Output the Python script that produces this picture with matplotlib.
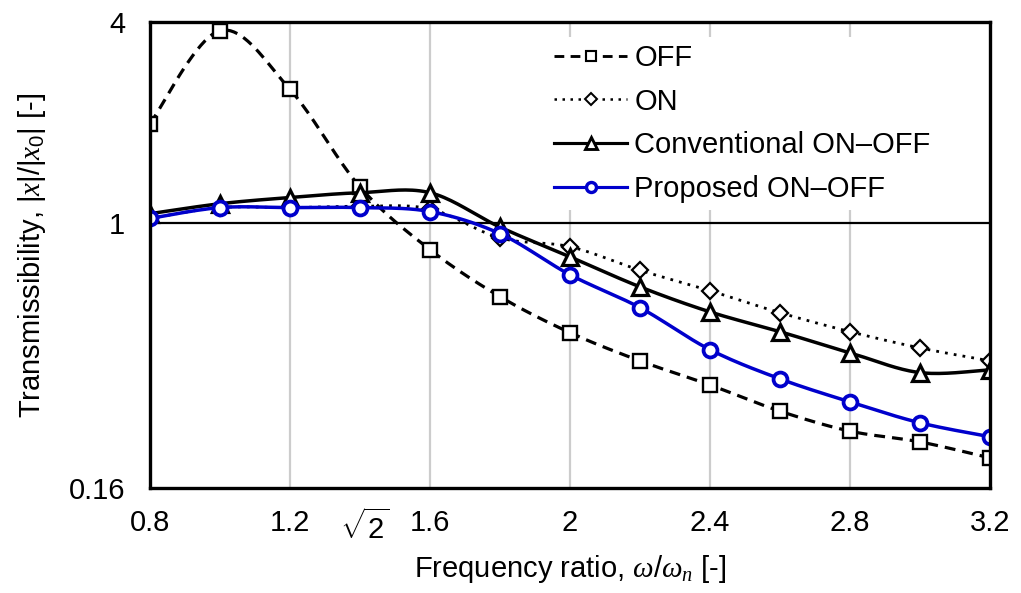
import numpy as np
import matplotlib
matplotlib.use("Agg")
import matplotlib.pyplot as plt
from matplotlib.lines import Line2D

plt.rcParams['font.family'] = ['Liberation Sans', 'DejaVu Sans']
plt.rcParams['mathtext.fontset'] = 'custom'
plt.rcParams['mathtext.rm'] = 'Liberation Sans'
plt.rcParams['mathtext.it'] = 'Liberation Serif:italic'
plt.rcParams['mathtext.bf'] = 'Liberation Sans:bold'

freq = [0.8, 1.0, 1.2, 1.4, 1.6, 1.8, 2.0, 2.2, 2.4, 2.6, 2.8, 3.0, 3.2]
off = [1.98, 3.77, 2.51, 1.28, 0.83, 0.60, 0.468, 0.385, 0.326, 0.272, 0.237, 0.220, 0.197]
on = [1.03, 1.11, 1.11, 1.12, 1.10, 0.90, 0.847, 0.72, 0.625, 0.537, 0.471, 0.421, 0.385]
conv = [1.064, 1.14, 1.19, 1.23, 1.23, 0.97, 0.79, 0.642, 0.54, 0.471, 0.407, 0.355, 0.362]
prop = [1.03, 1.11, 1.11, 1.11, 1.08, 0.927, 0.698, 0.556, 0.416, 0.340, 0.290, 0.251, 0.228]

labels = ['OFF', 'ON', 'Conventional ON\u2013OFF', 'Proposed ON\u2013OFF']
xticks = [0.8, 1.2, np.sqrt(2), 1.6, 2.0, 2.4, 2.8, 3.2]
xticklabels = ['0.8', '1.2', r'$\mathrm{\sqrt{2}}$', '1.6', '2', '2.4', '2.8', '3.2']
xgrid = [1.2, 1.6, 2.0, 2.4, 2.8]
yticks = [0.16, 1, 4]
yticklabels = ['0.16', '1', '4']

FS = 21


def smooth(x, y, n=20):
    """Catmull-Rom (Excel-style) smoothing in (x, log y) space."""
    x = np.asarray(x, float)
    ly = np.log10(np.asarray(y, float))
    px = np.concatenate([[x[0]], x, [x[-1]]])
    py = np.concatenate([[ly[0]], ly, [ly[-1]]])
    xs, ys = [], []
    t = np.linspace(0, 1, n, endpoint=False)
    for i in range(1, len(px) - 2):
        p0x, p1x, p2x, p3x = px[i - 1], px[i], px[i + 1], px[i + 2]
        p0y, p1y, p2y, p3y = py[i - 1], py[i], py[i + 1], py[i + 2]
        c1x = p1x + (p2x - p0x) / 6
        c1y = p1y + (p2y - p0y) / 6
        c2x = p2x - (p3x - p1x) / 6
        c2y = p2y - (p3y - p1y) / 6
        b0 = (1 - t) ** 3
        b1 = 3 * (1 - t) ** 2 * t
        b2 = 3 * (1 - t) * t ** 2
        b3 = t ** 3
        xs.append(b0 * p1x + b1 * c1x + b2 * c2x + b3 * p2x)
        ys.append(b0 * p1y + b1 * c1y + b2 * c2y + b3 * p2y)
    xs.append([x[-1]])
    ys.append([ly[-1]])
    return np.concatenate(xs), 10 ** np.concatenate(ys)


fig = plt.figure(figsize=(10.21, 5.93), dpi=100)
ax = fig.add_axes([150 / 1021, 1 - 488 / 593, 840 / 1021, 466 / 593])

blue = '#0000cc'
styles = [
    dict(color='black', ls=(0, (3.4, 2.2)), lw=2.3, marker='s', ms=10.5, mew=1.7, mec='black'),
    dict(color='black', ls=(0, (1, 2.2)), lw=2.0, marker='D', ms=8.5, mew=1.6, mec='black'),
    dict(color='black', ls='-', lw=2.5, marker='^', ms=11.5, mew=2.3, mec='black'),
    dict(color=blue, ls='-', lw=2.5, marker='o', ms=10, mew=2.7, mec=blue),
]

for v in xgrid:
    ax.axvline(v, color='#cccccc', lw=1.6, zorder=0)
ax.axhline(1, color='black', lw=1.6, zorder=1)

handles = []
for k, (data, st) in enumerate(zip([off, on, conv, prop], styles)):
    sx, sy = smooth(freq, data)
    ax.plot(sx, sy, color=st['color'], ls=st['ls'], lw=st['lw'], zorder=2 + k,
            solid_capstyle='butt', dash_capstyle='butt')
    ax.plot(freq, data, ls='none', marker=st['marker'], ms=st['ms'], mew=st['mew'],
            mec=st['mec'], mfc='white', zorder=2.5 + k)
    handles.append(Line2D([], [], color=st['color'], ls=st['ls'], lw=st['lw'] * 0.9,
                          marker=st['marker'], ms=st['ms'] * 0.72, mew=st['mew'] * 0.9,
                          mec=st['mec'], mfc='white'))

ax.set_yscale('log')
ax.set_xlim(0.8, 3.2)
ax.set_ylim(0.16, 4)
ax.set_xticks(xticks)
ax.set_xticklabels(xticklabels)
ax.set_yticks(yticks)
ax.set_yticklabels(yticklabels)
ax.yaxis.set_minor_locator(matplotlib.ticker.NullLocator())
ax.tick_params(axis='both', length=0, labelsize=FS)
ax.tick_params(axis='x', pad=15)
ax.tick_params(axis='y', pad=18)
for sp in ax.spines.values():
    sp.set_linewidth(2.4)
    sp.set_zorder(10)

ax.set_xlabel(r'Frequency ratio, $\omega/\omega_n$ [-]', fontsize=FS, labelpad=6)
ax.set_ylabel(r'Transmissibility, $|x|/|x_0|$ [-]', fontsize=FS, labelpad=15)

leg = ax.legend(handles, labels, loc='upper left', bbox_to_anchor=(0.455, 1.0),
                fontsize=FS, frameon=True, framealpha=1, edgecolor='none',
                facecolor='white', handlelength=2.5, handletextpad=0.25,
                labelspacing=0.54, borderpad=0.25, fancybox=False)
leg.set_zorder(20)

fig.savefig('out.png', dpi=100)
